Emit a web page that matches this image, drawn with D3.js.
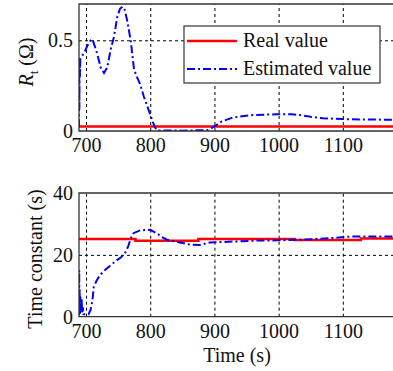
<!DOCTYPE html>
<html>
<head>
<meta charset="utf-8">
<script src="https://cdn.jsdelivr.net/npm/d3@7"></script>
<style>
  body { margin: 0; background: #fff; }
  svg text { font-family: "Liberation Serif", "Times New Roman", serif; fill: #111; }
</style>
</head>
<body>
<div id="chart"></div>
<script>
// tick values
const xTicks = [700, 800, 900, 1000, 1100];
const rTicks = [0, 0.5];
const tauTicks = [0, 20, 40];

// top panel: R_t
const rEstTime = [689, 689.3, 689.6, 690, 690.5, 691, 693, 697, 702, 707, 710, 712.4, 717, 722.8, 728, 733, 738.4,
  743.5, 748.7, 753, 757, 760, 764, 769.5, 774.7, 779, 784, 790, 800, 805, 809, 812, 850, 890, 900, 910, 929, 960,
  997, 1020, 1033, 1050, 1069, 1098, 1140, 1200];
const rEstVal = [0.02, 0.38, 0.12, 0.40, 0.30, 0.40, 0.41, 0.43, 0.47, 0.50, 0.505, 0.48, 0.43, 0.35, 0.32, 0.35, 0.45,
  0.52, 0.63, 0.675, 0.685, 0.67, 0.61, 0.50, 0.34, 0.30, 0.26, 0.19, 0.09, 0.04, 0.01, 0.003, 0.002, 0.005, 0.025, 0.05,
  0.075, 0.088, 0.092, 0.092, 0.088, 0.078, 0.07, 0.066, 0.063, 0.062];
const rRealTime = [689, 1200];
const rRealVal = [0.025, 0.025];

// bottom panel: time constant
const tauEstTime = [689, 689.3, 689.6, 690, 690.5, 691, 692, 693, 694, 695, 696, 700, 704, 707, 710, 712, 717, 722,
  730, 738, 745, 755, 762, 766, 770, 774, 784, 800, 810, 818, 826, 846, 862, 877, 893, 930, 966, 997, 1038, 1080, 1111, 1200];
const tauEstVal = [0.5, 15, 2, 9, 1, 6.5, 2, 6, 1, 3, 0.8, 0.8, 0.8, 2.2, 5.4, 9.7, 11.9, 13.5,
  15.2, 16.6, 17.8, 19.3, 21, 23, 25.5, 27, 27.9, 28.1, 27, 25.8, 24.9, 24, 23.3, 23.2, 24, 24.3, 24.6, 24.7, 24.9, 25.4, 25.9, 25.9];
const tauRealTime = [689, 777, 875, 1025, 1128, 1200];
const tauRealVal = [25.1, 24.6, 25.1, 24.8, 25.3, 25.3];

const width = 393, height = 371;
const serif = "'Liberation Serif', 'Times New Roman', serif";
const svg = d3.select("#chart").append("svg")
  .attr("width", width).attr("height", height);

const x = d3.scaleLinear().domain([689, 1200]).range([79, 407]);
const yTop = d3.scaleLinear().domain([0, 0.7]).range([131, 4]);
const yBot = d3.scaleLinear().domain([0, 40]).range([316.7, 193]);

const toPts = (ts, vs) => ts.map((t, i) => [t, vs[i]]);

function panel(y, yTicks, yFmt, est, real, stepped, id) {
  const g = svg.append("g");
  const [y0, y1] = y.range();

  g.append("clipPath").attr("id", id)
    .append("rect").attr("x", x.range()[0]).attr("y", y1)
    .attr("width", x.range()[1] - x.range()[0]).attr("height", y0 - y1);

  // grid
  g.append("g")
    .attr("transform", `translate(0,${y0})`)
    .call(d3.axisBottom(x).tickValues(xTicks).tickSize(-(y0 - y1)).tickFormat(""))
    .call(a => a.select(".domain").remove())
    .selectAll("line").attr("stroke", "#000").attr("stroke-dasharray", "3,3");
  g.append("g")
    .attr("transform", `translate(${x.range()[0]},0)`)
    .call(d3.axisLeft(y).tickValues(yTicks.filter(v => v > y.domain()[0] && v < y.domain()[1]))
      .tickSize(-(x.range()[1] - x.range()[0])).tickFormat(""))
    .call(a => a.select(".domain").remove())
    .selectAll("line").attr("stroke", "#000").attr("stroke-dasharray", "3,3");

  // tick labels
  g.append("g")
    .attr("transform", `translate(0,${y0})`)
    .call(d3.axisBottom(x).tickValues(xTicks).tickSize(0).tickPadding(7).tickFormat(d3.format("d")))
    .attr("font-family", null).attr("font-size", null)
    .call(a => a.select(".domain").remove())
    .selectAll("text").style("font-size", "20px").style("font-family", serif);
  g.append("g")
    .attr("transform", `translate(${x.range()[0]},0)`)
    .call(d3.axisLeft(y).tickValues(yTicks).tickSize(0).tickPadding(6).tickFormat(yFmt))
    .attr("font-family", null).attr("font-size", null)
    .call(a => a.select(".domain").remove())
    .selectAll("text").style("font-size", "20px").style("font-family", serif);

  const line = d3.line().x(d => x(d[0])).y(d => y(d[1]));
  const stepLine = d3.line().x(d => x(d[0])).y(d => y(d[1])).curve(d3.curveStepAfter);

  g.append("path")
    .attr("clip-path", `url(#${id})`)
    .attr("d", (stepped ? stepLine : line)(real))
    .attr("fill", "none").attr("stroke", "#ff0000").attr("stroke-width", 2.5);
  g.append("path")
    .attr("clip-path", `url(#${id})`)
    .attr("d", line(est))
    .attr("fill", "none").attr("stroke", "#0000ff").attr("stroke-width", 2)
    .attr("stroke-dasharray", "8,3,2,3");

  // box
  g.append("path")
    .attr("d", `M${x.range()[1]},${y1}H${x.range()[0]}V${y0}H${x.range()[1]}`)
    .attr("fill", "none").attr("stroke", "#333").attr("stroke-width", 1.3);
  return g;
}

panel(yTop, rTicks, d3.format(""), toPts(rEstTime, rEstVal), toPts(rRealTime, rRealVal), false, "clipTop");
panel(yBot, tauTicks, d3.format("d"), toPts(tauEstTime, tauEstVal), toPts(tauRealTime, tauRealVal), true, "clipBot");

// legend
const legend = svg.append("g");
legend.append("rect")
  .attr("x", 184).attr("y", 26).attr("width", 196).attr("height", 57)
  .attr("fill", "#fff").attr("stroke", "#444").attr("stroke-width", 1.3);
const legendItems = ["Real value", "Estimated value"];
legend.selectAll("line.sample")
  .data(legendItems).join("line")
  .attr("x1", 187).attr("x2", 237)
  .attr("y1", (d, i) => 41 + i * 28).attr("y2", (d, i) => 41 + i * 28)
  .attr("stroke", (d, i) => i ? "#0000ff" : "#ff0000")
  .attr("stroke-width", (d, i) => i ? 2 : 2.5)
  .attr("stroke-dasharray", (d, i) => i ? "8,3,2,3" : null);
legend.selectAll("text")
  .data(legendItems).join("text")
  .attr("x", 243).attr("y", (d, i) => 47 + i * 28)
  .style("font-size", "20px")
  .text(d => d);

// axis labels
const rLabel = svg.append("text")
  .attr("transform", "translate(33,62) rotate(-90)")
  .attr("text-anchor", "middle").style("font-size", "20px");
rLabel.append("tspan").attr("font-style", "italic").text("R");
rLabel.append("tspan").style("font-size", "13px").attr("dy", 5).text("t");
rLabel.append("tspan").attr("dy", -5).text(" (\u03A9)");

svg.append("text")
  .attr("transform", "translate(42,259) rotate(-90)")
  .attr("text-anchor", "middle").style("font-size", "20px")
  .text("Time constant (s)");

svg.append("text")
  .attr("x", 237).attr("y", 362)
  .attr("text-anchor", "middle").style("font-size", "20px")
  .text("Time (s)");
</script>
</body>
</html>
